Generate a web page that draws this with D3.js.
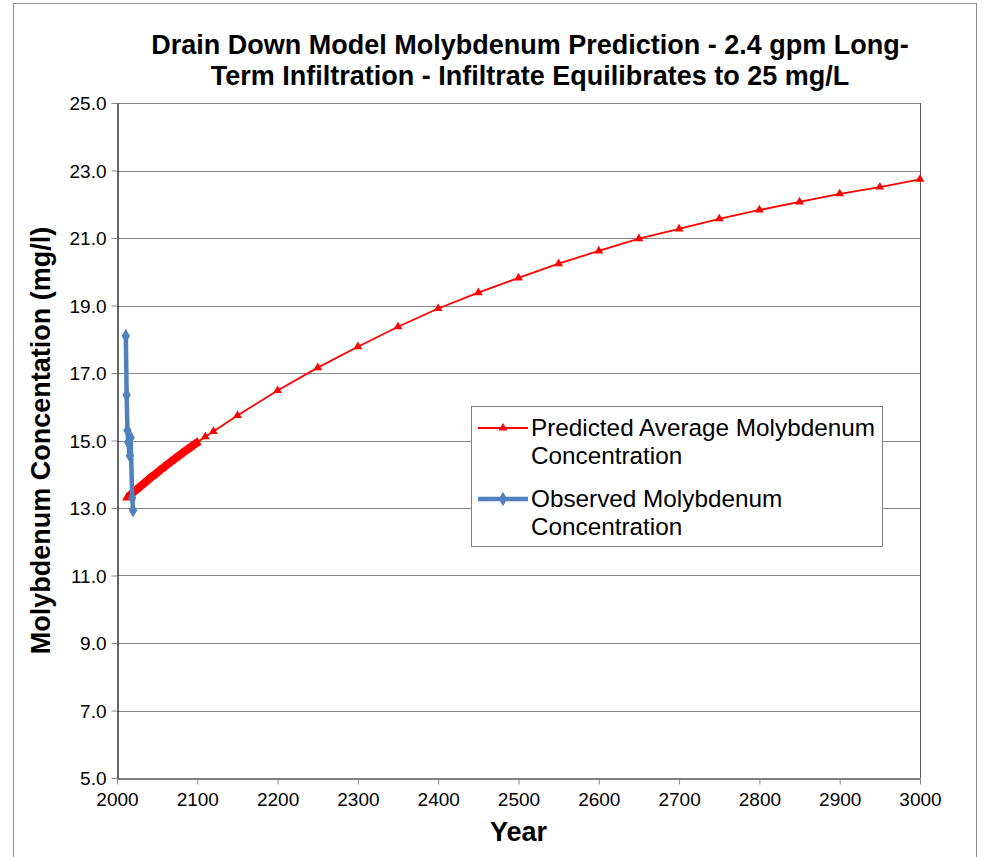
<!DOCTYPE html>
<html><head><meta charset="utf-8">
<script src="https://cdn.jsdelivr.net/npm/d3@7"></script>
<style>body{margin:0;background:#fff}svg{display:block}text{font-family:"Liberation Sans",Arial,sans-serif}</style>
</head><body>
<svg id="c" width="988" height="857"></svg>
<script>
const titleLines = ["Drain Down Model Molybdenum Prediction - 2.4 gpm Long-", "Term Infiltration - Infiltrate Equilibrates to 25 mg/L"];
const xLabel = "Year";
const yLabel = "Molybdenum Concentation (mg/l)";
const xTicks = [2000,2100,2200,2300,2400,2500,2600,2700,2800,2900,3000];
const yTicks = [5,7,9,11,13,15,17,19,21,23,25];
const predictedName = ["Predicted Average Molybdenum", "Concentration"];
const observedName = ["Observed Molybdenum", "Concentration"];
const predictedYears = [2012,2013,2014,2015,2016,2017,2018,2019,2020,2021,2022,2023,2024,2025,2026,2027,2028,2029,2030,2031,2032,2033,2034,2035,2036,2037,2038,2039,2040,2041,2042,2043,2044,2045,2046,2047,2048,2049,2050,2051,2052,2053,2054,2055,2056,2057,2058,2059,2060,2061,2062,2063,2064,2065,2066,2067,2068,2069,2070,2071,2072,2073,2074,2075,2076,2077,2078,2079,2080,2081,2082,2083,2084,2085,2086,2087,2088,2089,2090,2091,2092,2093,2094,2095,2096,2097,2098,2099,2100,2110,2120,2150,2200,2250,2300,2350,2400,2450,2500,2550,2600,2650,2700,2750,2800,2850,2900,2950,3000];
const predictedValues = [13.30,13.33,13.35,13.37,13.39,13.41,13.43,13.45,13.47,13.49,13.51,13.53,13.55,13.57,13.59,13.61,13.63,13.65,13.67,13.69,13.71,13.73,13.75,13.77,13.79,13.81,13.83,13.85,13.87,13.89,13.91,13.93,13.94,13.96,13.98,14.00,14.02,14.04,14.06,14.08,14.10,14.12,14.14,14.15,14.17,14.19,14.21,14.23,14.25,14.27,14.28,14.30,14.32,14.34,14.36,14.38,14.39,14.41,14.43,14.45,14.47,14.48,14.50,14.52,14.54,14.55,14.57,14.59,14.61,14.63,14.64,14.66,14.68,14.69,14.71,14.73,14.75,14.76,14.78,14.80,14.81,14.83,14.85,14.86,14.88,14.90,14.91,14.93,14.95,15.11,15.27,15.74,16.48,17.16,17.78,18.37,18.91,19.38,19.82,20.24,20.62,20.98,21.27,21.57,21.83,22.07,22.31,22.51,22.74];
const observedYears = [2011,2012,2013,2014,2016,2017,2019,2020];
const observedValues = [18.10,16.35,15.30,14.95,14.55,15.08,13.30,12.93];

const svg = d3.select("#c");
const W = 988, H = 857;
const m = {left:117, right:920, top:103, bottom:778};
const x = d3.scaleLinear().domain([2000,3000]).range([m.left, m.right]);
const y = d3.scaleLinear().domain([5,25]).range([m.bottom, m.top]);

svg.append("rect").attr("x",13.5).attr("y",3.5).attr("width",963).attr("height",H+10)
  .attr("fill","#fff").attr("stroke","#8c8c8c").attr("stroke-width",1);

// gridlines
svg.append("g").selectAll("line").data(yTicks.slice(1)).join("line")
  .attr("x1",m.left).attr("x2",m.right)
  .attr("y1",d=>Math.round(y(d))+0.5).attr("y2",d=>Math.round(y(d))+0.5)
  .attr("stroke","#878787").attr("stroke-width",1);
// right border of plot
svg.append("line").attr("x1",m.right+0.5).attr("x2",m.right+0.5).attr("y1",m.top).attr("y2",m.bottom)
  .attr("stroke","#595959").attr("stroke-width",1);

// axes
const yAxis = svg.append("g").attr("transform",`translate(${m.left+0.5},0)`)
  .call(d3.axisLeft(y).tickValues(yTicks).tickFormat(d3.format(".1f")).tickSize(6).tickSizeOuter(0));
const xAxis = svg.append("g").attr("transform",`translate(0,${m.bottom+0.5})`)
  .call(d3.axisBottom(x).tickValues(xTicks).tickFormat(d3.format("d")).tickSize(6).tickSizeOuter(0));
[yAxis,xAxis].forEach(g=>{
  g.select(".domain").attr("stroke","#000").attr("stroke-width",1.2);
  g.selectAll(".tick line").attr("stroke","#888");
  g.selectAll("text").attr("font-size",19).attr("fill","#000").attr("font-family","Liberation Sans, Arial, sans-serif");
});
yAxis.selectAll(".tick text").attr("x",-11).attr("dy","0.35em");
xAxis.selectAll(".tick text").attr("y",14).attr("dy","0.71em");

// predicted line
const predicted = predictedYears.map((d,i)=>({x:d,y:predictedValues[i]}));
const observed = observedYears.map((d,i)=>({x:d,y:observedValues[i]}));
const line = d3.line().x(d=>x(d.x)).y(d=>y(d.y));
svg.append("path").datum(predicted).attr("d",line).attr("fill","none").attr("stroke","#ff0000").attr("stroke-width",1.8);
const tri = d3.symbol().type(d3.symbolTriangle).size(34);
svg.append("g").selectAll("path").data(predicted).join("path")
  .attr("d",tri).attr("transform",d=>`translate(${x(d.x)},${y(d.y)})`).attr("fill","#ff0000");

// observed
svg.append("path").datum(observed).attr("d",line).attr("fill","none").attr("stroke","#4f81bd").attr("stroke-width",4.5).attr("stroke-linejoin","round");
const dia = d3.symbol().type(d3.symbolDiamond).size(60);
svg.append("g").selectAll("path").data(observed).join("path")
  .attr("d",dia).attr("transform",d=>`translate(${x(d.x)},${y(d.y)})`).attr("fill","#4f81bd");

// title
svg.append("text").attr("text-anchor","middle")
  .attr("font-weight","bold").attr("font-size",27).attr("fill","#000")
  .selectAll("tspan").data(titleLines).join("tspan").attr("x",530).attr("y",(d,i)=>54+i*31).text(d=>d);

// axis titles
svg.append("text").attr("x",(m.left+m.right)/2).attr("y",841).attr("text-anchor","middle")
  .attr("font-weight","bold").attr("font-size",27).text(xLabel);
svg.append("text").attr("transform",`translate(50,${(m.top+m.bottom)/2}) rotate(-90)`).attr("text-anchor","middle")
  .attr("font-weight","bold").attr("font-size",27).text(yLabel);

// legend
const lg = svg.append("g");
lg.append("rect").attr("x",471.5).attr("y",406.5).attr("width",411).attr("height",140)
  .attr("fill","#fff").attr("stroke","#7f7f7f");
const entries = [{name:predictedName, color:"#ff0000", w:1.8, sym:tri, y:428},{name:observedName, color:"#4f81bd", w:4.5, sym:dia, y:499}];
entries.forEach(e=>{
  lg.append("line").attr("x1",478).attr("x2",528).attr("y1",e.y).attr("y2",e.y).attr("stroke",e.color).attr("stroke-width",e.w);
  lg.append("path").attr("d",e.sym).attr("transform",`translate(503,${e.y})`).attr("fill",e.color);
  lg.append("text").attr("font-size",24.3).attr("fill","#000")
    .selectAll("tspan").data(e.name).join("tspan").attr("x",531).attr("y",(d,i)=>e.y+8+i*28).text(d=>d);
});
</script>
</body></html>
